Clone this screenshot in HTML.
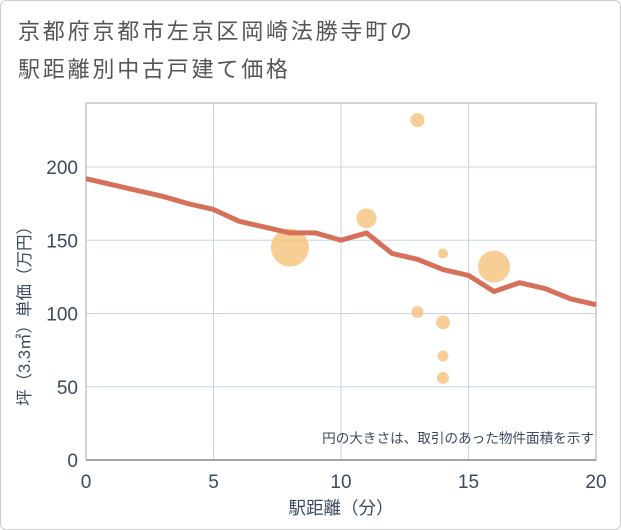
<!DOCTYPE html>
<html><head><meta charset="utf-8"><style>
body{margin:0;background:#fff;font-family:"Liberation Sans","Noto Sans CJK JP",sans-serif}
#wrap{position:relative;width:619px;height:528px;border:1px solid #ccc;border-radius:6px;background:#fff}
#title{position:absolute;left:17px;top:12px;font-size:22px;line-height:38px;color:#555;letter-spacing:2.8px}
</style></head><body>
<div id="wrap">
<div id="title">京都府京都市左京区岡崎法勝寺町の<br>駅距離別中古戸建て価格</div>
<svg id="chart" width="621" height="530" style="position:absolute;left:-1px;top:-1px"></svg>
</div>
<script>
const xTicks=[0,5,10,15,20];
const yTicks=[0,50,100,150,200];
const lineX=[0,1,2,3,4,5,6,7,8,9,10,11,12,13,14,15,16,17,18,19,20];
const lineY=[192,188,184,180,175,171,163,159,155,155,150,155,141,137,130,126,115,121,117,110,106];
const bubX=[8,11,13,14,16,13,14,14,14];
const bubY=[145,165,232,141,132,101,94,71,56];
const bubR=[19,10,7,5,16,6,7,5.5,6];
const L=86,R=596,T=103,B=460;
const sx=v=>L+(v-0)/(20-0)*(R-L);
const sy=v=>B-v/200*(B-167);
const NS="http://www.w3.org/2000/svg";
const svg=document.getElementById('chart');
function mk(tag,attrs,parent){const e=document.createElementNS(NS,tag);for(const k in attrs)e.setAttribute(k,attrs[k]);(parent||svg).appendChild(e);return e;}
let g=mk('g',{});


xTicks.forEach(v=>{if(v>0&&v<20){const l=mk('line',{x1:sx(v),x2:sx(v),y1:T,y2:B,stroke:'#c5d5e5','stroke-width':1},g);

}});
yTicks.forEach(v=>{if(v>0){const l=mk('line',{x1:L,x2:R,y1:sy(v),y2:sy(v),stroke:'#c5d5e5','stroke-width':1},g);

}});
const fr=mk('rect',{x:L,y:T,width:R-L,height:B-T,fill:'none',stroke:'#aab','stroke-width':1});


const ax=mk('line',{x1:L,x2:R,y1:B,y2:B,stroke:'#888','stroke-width':1.5});


xTicks.forEach(v=>{const t=mk('text',{x:sx(v),y:488,'text-anchor':'middle','font-size':19,fill:'#3a4a5e'});t.textContent=v;

});
yTicks.forEach(v=>{const t=mk('text',{x:78,y:sy(v)+7,'text-anchor':'end','font-size':19,fill:'#3a4a5e'});t.textContent=v;

});
const bg=mk('g',{});


bubX.forEach((x,i)=>{const c=mk('circle',{cx:sx(x),cy:sy(bubY[i]),r:bubR[i],fill:'#f5c27a','fill-opacity':0.8},bg);

});
const p=mk('polyline',{points:lineX.map((x,i)=>sx(x)+','+sy(lineY[i])).join(' '),fill:'none',stroke:'#d6705a','stroke-width':5,'stroke-linejoin':'round'});


const note=mk('text',{x:594,y:443,'text-anchor':'end','font-size':13.6,fill:'#3a4a5e'});note.textContent='円の大きさは、取引のあった物件面積を示す';


const xt=mk('text',{x:sx(10),y:514,'text-anchor':'middle','font-size':17.5,fill:'#3a4a5e'});xt.textContent='駅距離（分）';


const yt=mk('text',{x:0,y:0,'text-anchor':'middle','font-size':16.5,fill:'#3a4a5e',transform:'translate(30,312) rotate(-90)'});yt.textContent='坪（3.3㎡）単価（万円）';


</script>
</body></html>
